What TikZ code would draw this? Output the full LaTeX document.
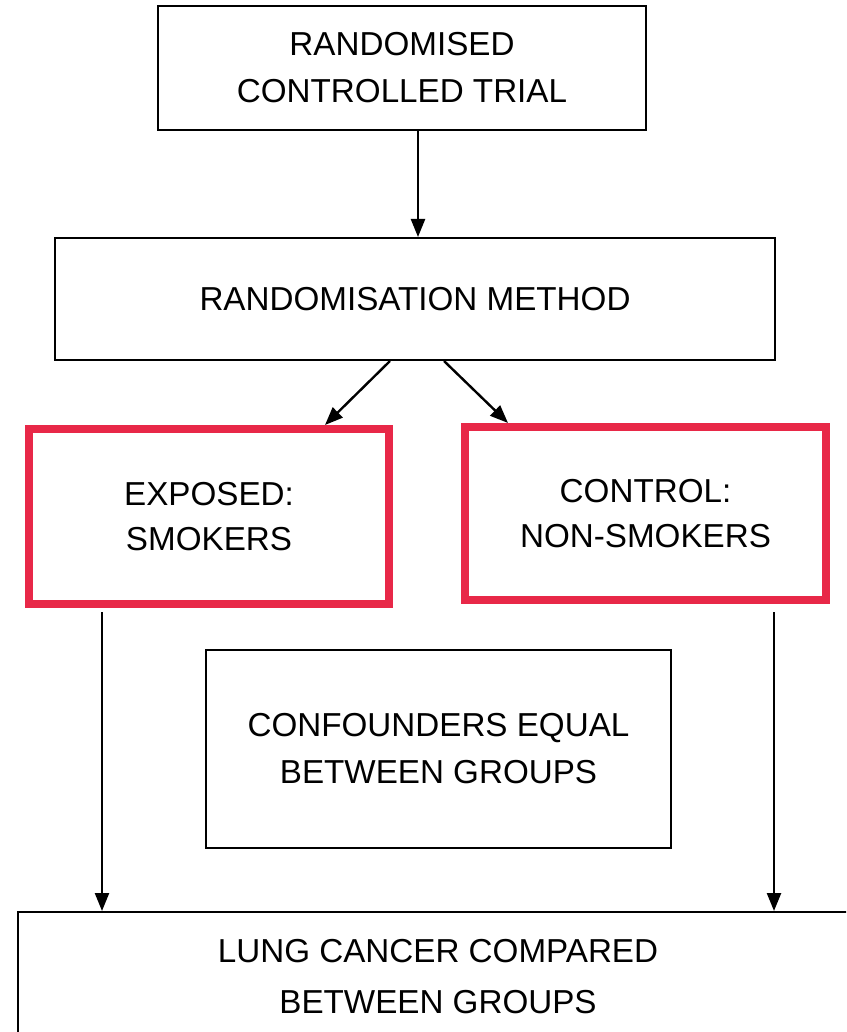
\documentclass[tikz,border=0pt]{standalone}
\usepackage{fontspec}
\setmainfont{Liberation Sans}
\usepackage{tikz}
\usetikzlibrary{arrows.meta,positioning,calc}
\definecolor{grpred}{RGB}{232,40,72}
\tikzset{
  bx/.style={rectangle,draw=black,line width=1pt,align=center,font=\fontsize{16.6}{23.5}\selectfont},
  gbx/.style={rectangle,draw=grpred,line width=4pt,align=center,font=\fontsize{16.6}{22.5}\selectfont},
  arr/.style={-{Triangle[length=9pt,width=7pt]},line width=1.2pt},
}
\begin{document}
\begin{tikzpicture}[x=0.5pt,y=-0.5pt]
  \useasboundingbox (0,0) rectangle (846,1032);
  \begin{scope}
  \clip (0,0) rectangle (846,1032);
  \node[bx,minimum width=244pt,minimum height=62pt] (rct) at (402,68) {RANDOMISED\\CONTROLLED TRIAL};
  \node[bx,minimum width=360pt,minimum height=61pt] (rand) at (415,299) {RANDOMISATION METHOD};
  \node[gbx,minimum width=180pt,minimum height=87.5pt] (expo) at (209,516.5) {EXPOSED:\\SMOKERS};
  \node[gbx,minimum width=180.5pt,minimum height=86.5pt] (ctrl) at (645.5,513.5) {CONTROL:\\NON-SMOKERS};
  \node[bx,minimum width=232.5pt,minimum height=99pt] (conf) at (438.5,749) {CONFOUNDERS EQUAL\\BETWEEN GROUPS};
  \node[bx,minimum width=420pt,minimum height=65pt,font=\fontsize{16.6}{25.5}\selectfont] (lung) at (438,977) {LUNG CANCER COMPARED\\BETWEEN GROUPS};
  \draw[arr] ($(rct.south)+(16,0)$) -- ($(rand.north)+(3,0)$);
  \draw[arr] ($(rand.south)+(-25,0)$) -- ($(expo.north east)+(-68,0)$);
  \draw[arr] ($(rand.south)+(29,0)$) -- ($(ctrl.north west)+(47,0)$);
  \coordinate (el) at ($(expo.south west)+(77,4)$);
  \coordinate (cr) at ($(ctrl.south east)+(-56,8)$);
  \draw[arr] (el) -- (el |- lung.north);
  \draw[arr] (cr) -- (cr |- lung.north);
  \end{scope}
\end{tikzpicture}
\end{document}
